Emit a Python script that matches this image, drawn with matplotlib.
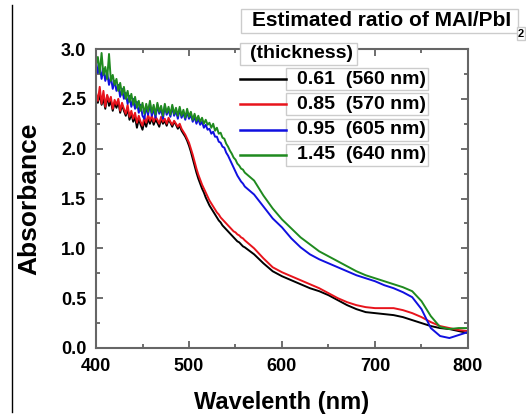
import numpy as np
import matplotlib
matplotlib.use("Agg")
import matplotlib.pyplot as plt
from matplotlib.patches import Rectangle
from matplotlib.lines import Line2D
from matplotlib.ticker import MultipleLocator

plt.rcParams["font.family"] = ["Liberation Sans", "DejaVu Sans"]
plt.rcParams["font.weight"] = "bold"

# wavelength grid: 2 nm in the noisy blue region, 10 nm after
wl_noisy = list(range(400, 561, 2))
wl_smooth = list(range(570, 801, 10))
wavelength = np.array(wl_noisy + wl_smooth, dtype=float)

abs_061 = [2.52, 2.46, 2.55, 2.44, 2.50, 2.40, 2.53, 2.43, 2.48, 2.38, 2.46,
           2.41, 2.47, 2.36, 2.44, 2.38, 2.33, 2.40, 2.29, 2.35, 2.27,
           2.32, 2.21, 2.30, 2.24, 2.19, 2.28, 2.22, 2.30, 2.25, 2.31,
           2.24, 2.29, 2.26, 2.22, 2.30, 2.25, 2.28, 2.23, 2.29, 2.26,
           2.22, 2.27, 2.24, 2.20, 2.23, 2.18, 2.15, 2.12, 2.08, 2.03,
           1.97, 1.90, 1.83, 1.76, 1.70, 1.65, 1.60, 1.56, 1.51, 1.47,
           1.43, 1.40, 1.37, 1.34, 1.31, 1.28, 1.26, 1.23, 1.21, 1.19,
           1.17, 1.15, 1.13, 1.11, 1.09, 1.07, 1.06, 1.04, 1.02, 1.01,
           0.94, 0.85, 0.77, 0.72, 0.68, 0.64, 0.60, 0.57, 0.53, 0.48, 0.43,
           0.39, 0.36, 0.35, 0.34, 0.33, 0.31, 0.28, 0.25, 0.22, 0.20, 0.19,
           0.17, 0.15]
abs_085 = [2.56, 2.48, 2.62, 2.45, 2.58, 2.42, 2.54, 2.47, 2.52, 2.40, 2.49,
           2.44, 2.50, 2.38, 2.46, 2.40, 2.35, 2.44, 2.32, 2.38, 2.30,
           2.36, 2.26, 2.33, 2.27, 2.23, 2.32, 2.26, 2.34, 2.28, 2.33,
           2.27, 2.32, 2.29, 2.25, 2.32, 2.27, 2.30, 2.25, 2.31, 2.27,
           2.24, 2.28, 2.25, 2.22, 2.25, 2.20, 2.17, 2.14, 2.10, 2.06,
           2.00, 1.94, 1.87, 1.80, 1.74, 1.69, 1.64, 1.60, 1.56, 1.52,
           1.48, 1.45, 1.42, 1.39, 1.36, 1.34, 1.31, 1.29, 1.27, 1.25,
           1.23, 1.21, 1.19, 1.17, 1.16, 1.14, 1.13, 1.11, 1.10, 1.08,
           1.00, 0.90, 0.81, 0.76, 0.72, 0.68, 0.64, 0.60, 0.55, 0.50, 0.46,
           0.43, 0.41, 0.40, 0.40, 0.40, 0.38, 0.35, 0.31, 0.26, 0.22, 0.20,
           0.18, 0.17]
abs_095 = [2.88, 2.76, 2.84, 2.70, 2.80, 2.68, 2.76, 2.64, 2.72, 2.60, 2.68,
           2.58, 2.64, 2.52, 2.60, 2.50, 2.56, 2.45, 2.53, 2.42, 2.50,
           2.40, 2.47, 2.36, 2.44, 2.33, 2.30, 2.42, 2.34, 2.45, 2.33,
           2.40, 2.31, 2.44, 2.35, 2.40, 2.30, 2.43, 2.34, 2.39, 2.32,
           2.42, 2.33, 2.38, 2.30, 2.40, 2.31, 2.36, 2.29, 2.37, 2.30,
           2.34, 2.27, 2.32, 2.25, 2.30, 2.24, 2.27, 2.21, 2.24, 2.19,
           2.20, 2.15, 2.17, 2.12, 2.12, 2.07, 2.06, 2.02, 2.01, 1.96,
           1.93, 1.89, 1.85, 1.81, 1.77, 1.73, 1.70, 1.67, 1.65, 1.62,
           1.54, 1.42, 1.30, 1.21, 1.10, 1.01, 0.94, 0.89, 0.85, 0.81, 0.77,
           0.73, 0.70, 0.67, 0.63, 0.60, 0.56, 0.51, 0.39, 0.20, 0.12, 0.10,
           0.13, 0.16]
abs_145 = [2.84, 2.92, 2.76, 2.96, 2.74, 2.82, 2.70, 2.95, 2.68, 2.74, 2.64,
           2.70, 2.58, 2.66, 2.54, 2.62, 2.50, 2.58, 2.47, 2.55, 2.44,
           2.52, 2.41, 2.48, 2.38, 2.46, 2.35, 2.45, 2.37, 2.48, 2.36,
           2.44, 2.34, 2.46, 2.37, 2.43, 2.33, 2.45, 2.36, 2.42, 2.34,
           2.44, 2.35, 2.41, 2.33, 2.42, 2.33, 2.39, 2.31, 2.40, 2.32,
           2.37, 2.29, 2.35, 2.28, 2.33, 2.27, 2.31, 2.25, 2.29, 2.24,
           2.26, 2.21, 2.25, 2.18, 2.21, 2.15, 2.16, 2.11, 2.10, 2.05,
           2.02, 1.98, 1.95, 1.91, 1.89, 1.85, 1.83, 1.80, 1.79, 1.76,
           1.68, 1.53, 1.40, 1.29, 1.20, 1.11, 1.04, 0.97, 0.92, 0.87, 0.82,
           0.77, 0.73, 0.70, 0.67, 0.64, 0.61, 0.57, 0.47, 0.32, 0.21, 0.19,
           0.20, 0.20]

series = [abs_061, abs_085, abs_095, abs_145]
labels = ["0.61  (560 nm)", "0.85  (570 nm)", "0.95  (605 nm)", "1.45  (640 nm)"]
colors = ["#000000", "#e8141c", "#1010e0", "#1f8a1f"]

W, H = 526, 417
fig = plt.figure(figsize=(W / 100, H / 100), dpi=100)


def fx(px):
    return px / W


def fy(py):
    return 1 - py / H


ax = fig.add_axes([fx(96), fy(348), fx(468) - fx(96), fy(49) - fy(348)])

for ys, c in zip(series, colors):
    ax.plot(wavelength, ys, color=c, lw=1.4)

ax.set_xlim(400, 800)
ax.set_ylim(0, 3.0)
ax.xaxis.set_major_locator(MultipleLocator(100))
ax.xaxis.set_minor_locator(MultipleLocator(50))
ax.yaxis.set_major_locator(MultipleLocator(0.5))
ax.yaxis.set_minor_locator(MultipleLocator(0.25))
ax.tick_params(which="both", direction="in", top=True, right=True,
               color="#555555", labelsize=13, width=1.2)
ax.tick_params(which="major", length=5)
ax.tick_params(which="minor", length=3)
ax.tick_params(axis="x", which="major", pad=7)
ax.tick_params(axis="y", which="major", pad=7)
for sp in ax.spines.values():
    sp.set_color("#666666")
    sp.set_linewidth(1.5)
for t in ax.get_xticklabels() + ax.get_yticklabels():
    t.set_fontweight("bold")

ax.set_xlabel("Wavelenth (nm)", fontsize=17, fontweight="bold", labelpad=12)
ax.set_ylabel("Absorbance", fontsize=19, fontweight="bold", labelpad=14)

# left border line of the figure panel
fig.add_artist(Line2D([fx(12), fx(12)], [fy(5), fy(412)], color="black", lw=1))

# hand-built legend
box_kw = dict(facecolor="white", edgecolor="#cccccc", lw=1,
              transform=fig.transFigure)


def add_box(x0, y0, x1, y1):
    fig.add_artist(Rectangle((fx(x0), fy(y1)), fx(x1) - fx(x0),
                             fy(y0) - fy(y1), **box_kw))


add_box(241, 9, 518, 33)
fig.text(fx(252), fy(21), "Estimated ratio of MAI/PbI", fontsize=15,
         fontweight="bold", va="center", ha="left")
add_box(517, 27, 525, 40)
fig.text(fx(521), fy(34), "2", fontsize=8, fontweight="bold",
         va="center", ha="center")

add_box(240, 43, 357, 65)
fig.text(fx(250), fy(54), "(thickness)", fontsize=14, fontweight="bold",
         va="center", ha="left")

for i, (lab, c) in enumerate(zip(labels, colors)):
    yc = 79 + i * 25.3
    fig.add_artist(Line2D([fx(240), fx(286)], [fy(yc), fy(yc)], color=c,
                          lw=1.8))
    add_box(286, yc - 11, 428, yc + 11)
    fig.text(fx(297), fy(yc), lab, fontsize=14, fontweight="bold",
             va="center", ha="left")

fig.savefig("out.png", dpi=100)
